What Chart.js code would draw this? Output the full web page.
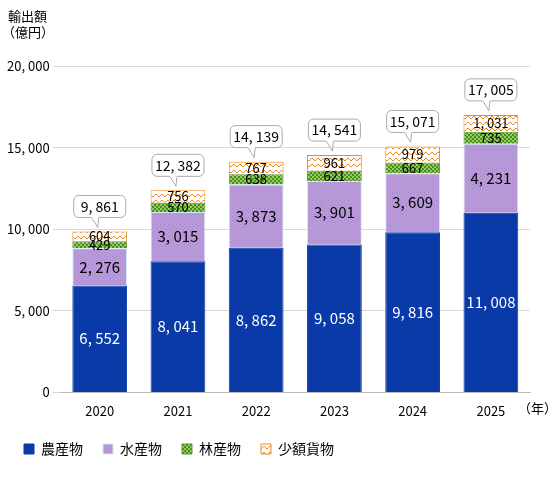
<!DOCTYPE html>
<html><head><meta charset="utf-8">
<script src="https://cdn.jsdelivr.net/npm/chart.js@4"></script>
<style>body{margin:0;background:#fff}#wrap{width:560px;height:480px;position:relative}</style>
</head><body><div id="wrap"><canvas id="chart"></canvas></div>
<script>
const years = ['2020', '2021', '2022', '2023', '2024', '2025'];
const agri = [6552, 8041, 8862, 9058, 9816, 11008];
const fish = [2276, 3015, 3873, 3901, 3609, 4231];
const forest = [429, 570, 638, 621, 667, 735];
const small = [604, 756, 767, 961, 979, 1031];
const totals = [9861, 12382, 14139, 14541, 15071, 17005];
const yTicks = [0, 5000, 10000, 15000, 20000];

const FONT = '"Noto Sans CJK JP", "Noto Sans", sans-serif';
const fmt = v => v.toLocaleString('en-US').replace(',', ', ');

function makePattern(draw, size) {
    const c = document.createElement('canvas');
    c.width = size; c.height = size;
    draw(c.getContext('2d'));
    return c.getContext('2d').createPattern(c, 'repeat');
}
const fishPat = makePattern(ctx => {
    ctx.fillStyle = '#b79ad6'; ctx.fillRect(0, 0, 4, 4);
    ctx.fillStyle = '#a585ca'; ctx.fillRect(0, 0, 1, 1); ctx.fillRect(2, 2, 1, 1);
}, 4);
const forestPat = makePattern(ctx => {
    ctx.fillStyle = '#4f8a2a'; ctx.fillRect(0, 0, 4, 4);
    ctx.fillStyle = '#8fcf5a'; ctx.fillRect(0, 0, 2, 2); ctx.fillRect(2, 2, 2, 2);
}, 4);
const smallPat = makePattern(ctx => {
    ctx.fillStyle = '#fff'; ctx.fillRect(0, 0, 6, 6);
    ctx.strokeStyle = '#f08a1c'; ctx.lineWidth = 1;
    ctx.beginPath(); ctx.moveTo(0, 2); ctx.lineTo(3, 5); ctx.lineTo(6, 2); ctx.stroke();
}, 6);

const labelPlugin = {
    id: 'labels',
    afterDatasetsDraw(chart) {
        const ctx = chart.ctx;
        ctx.save();
        ctx.textAlign = 'center'; ctx.textBaseline = 'middle';
        chart.data.datasets.forEach((ds, i) => {
            chart.getDatasetMeta(i).data.forEach((bar, j) => {
                const mid = (bar.y + bar.base) / 2;
                ctx.fillStyle = i === 0 ? '#fff' : '#000';
                ctx.font = (i < 2 ? '15px ' : '13px ') + FONT;
                ctx.fillText(fmt(ds.data[j]), bar.x, mid);
            });
        });
        // total callouts
        const last = chart.getDatasetMeta(3).data;
        ctx.font = '14px ' + FONT;
        last.forEach((bar, j) => {
            const w = 52, h = 22, x = bar.x - w / 2, y = bar.y - 36;
            ctx.beginPath();
            ctx.roundRect(x, y, w, h, 5);
            ctx.fillStyle = '#fff'; ctx.fill();
            ctx.strokeStyle = '#aaa'; ctx.lineWidth = 1; ctx.stroke();
            ctx.beginPath();
            ctx.moveTo(bar.x - 8, y + h); ctx.lineTo(bar.x - 2, y + h + 10); ctx.lineTo(bar.x - 1, y + h);
            ctx.fillStyle = '#fff'; ctx.fill(); ctx.stroke();
            ctx.fillStyle = '#fff'; ctx.fillRect(bar.x - 8, y + h - 1.5, 7, 2);
            ctx.fillStyle = '#000';
            ctx.fillText(fmt(totals[j]), bar.x, y + h / 2);
        });
        ctx.font = '13px ' + FONT;
        ctx.textAlign = 'left';
        ctx.fillText('輸出額', 8, 16);
        ctx.fillText('（億円）', 2, 32);
        ctx.fillText('（年）', 518, chart.scales.x.bottom - 14);
        ctx.restore();
    }
};

const mk = (label, data, bg, bc) => ({ label, data, backgroundColor: bg, borderColor: bc, borderWidth: 1, barPercentage: 0.7, categoryPercentage: 1 });

new Chart(document.getElementById('chart'), {
    type: 'bar',
    data: {
        labels: years,
        datasets: [
            mk('農産物', agri, '#0a3aa8', '#0a3aa8'),
            mk('水産物', fish, fishPat, '#cfe8f5'),
            mk('林産物', forest, forestPat, '#5a9a30'),
            mk('少額貨物', small, smallPat, '#f08a1c')
        ]
    },
    options: {
        responsive: true, maintainAspectRatio: false, animation: false,
        layout: { padding: { top: 66, right: 30, left: 4, bottom: 14 } },
        scales: {
            x: { stacked: true, grid: { display: false }, border: { color: '#bbb' },
                 ticks: { color: '#000', font: { family: FONT, size: 13 } } },
            y: { stacked: true, min: 0, max: 20000, border: { display: false },
                 afterBuildTicks: s => { s.ticks = yTicks.map(v => ({ value: v })); },
                 grid: { color: '#d9d9d9' },
                 ticks: { color: '#000', font: { family: FONT, size: 13 }, callback: v => fmt(v) } }
        },
        plugins: {
            tooltip: { enabled: false },
            legend: { position: 'bottom', align: 'start',
                      labels: { boxWidth: 10, boxHeight: 10, padding: 20, color: '#000', font: { family: FONT, size: 14 } } }
        }
    },
    plugins: [labelPlugin]
});
</script></body></html>
